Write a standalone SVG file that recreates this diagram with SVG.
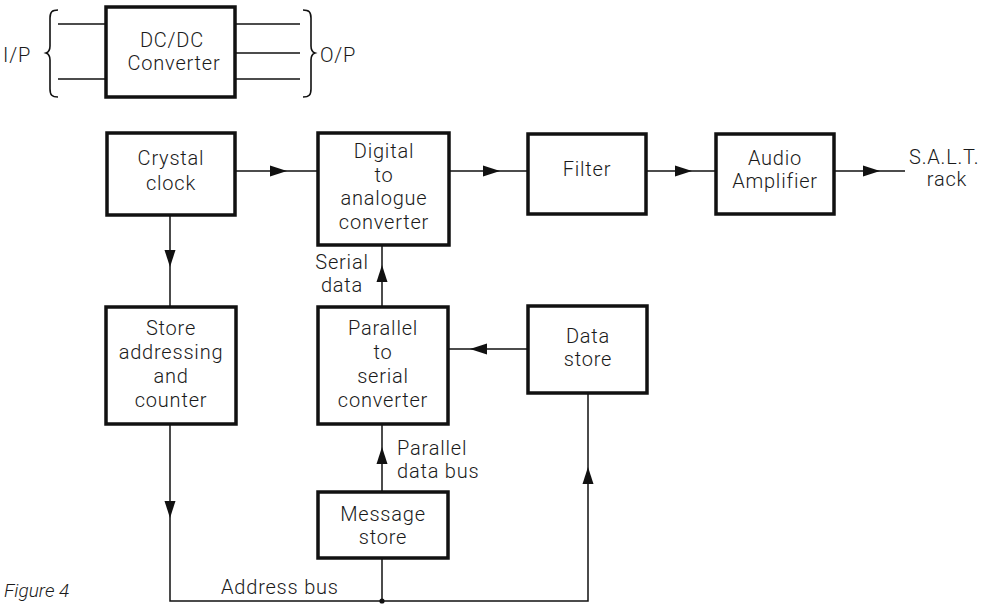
<svg xmlns="http://www.w3.org/2000/svg" xmlns:xlink="http://www.w3.org/1999/xlink" width="986" height="604" viewBox="0 0 986 604">
  <style>
    .box { fill: #fff; stroke: #111; stroke-width: 3.5; }
    .wire { fill: none; stroke: #111; stroke-width: 1.5; }
    .brace { fill: none; stroke: #111; stroke-width: 1.6; }
    .lbl { font-family: Roboto, "Liberation Sans", Arial, sans-serif; font-weight: 300; font-size: 20px; fill: #1a1a1a; letter-spacing: 0.8px; }
    .c { text-anchor: middle; }
    .cap { font-family: Roboto, "Liberation Sans", Arial, sans-serif; font-weight: 300; font-size: 19px; font-style: italic; fill: #1a1a1a; }
  </style>
  <defs>
    <!-- filled arrowhead, tip at origin, pointing along +x -->
    <path id="ah" d="M0,0 L-17,-5.5 L-17,5.5 Z" fill="#111"/>
  </defs>

  <rect width="986" height="604" fill="#fff"/>

  <!-- connectors -->
  <g id="connectors">
    <!-- DC/DC converter terminals -->
    <line class="wire" x1="58" y1="24" x2="106" y2="24"/>
    <line class="wire" x1="58" y1="79" x2="106" y2="79"/>
    <line class="wire" x1="235" y1="24" x2="300" y2="24"/>
    <line class="wire" x1="235" y1="53" x2="300" y2="53"/>
    <line class="wire" x1="235" y1="79" x2="300" y2="79"/>
    <path class="brace" d="M58,10 C52,10 50,12 50,18 L50,46 C50,50 49,52 46,53 C49,54 50,56 50,60 L50,89 C50,95 52,97 58,97"/>
    <path class="brace" d="M303,10 C309,10 311,12 311,18 L311,46 C311,50 312,52 315,53 C312,54 311,56 311,60 L311,89 C311,95 309,97 303,97"/>

    <!-- signal chain -->
    <line class="wire" x1="235" y1="171" x2="318" y2="171"/>
    <use xlink:href="#ah" transform="translate(287,171)"/>
    <line class="wire" x1="449" y1="171" x2="528" y2="171"/>
    <use xlink:href="#ah" transform="translate(500,171)"/>
    <line class="wire" x1="646" y1="171" x2="716" y2="171"/>
    <use xlink:href="#ah" transform="translate(692,171)"/>
    <line class="wire" x1="834" y1="171" x2="905" y2="171"/>
    <use xlink:href="#ah" transform="translate(880,171)"/>

    <!-- clock to store addressing -->
    <line class="wire" x1="170" y1="215" x2="170" y2="307"/>
    <use xlink:href="#ah" transform="translate(170,267) rotate(90)"/>

    <!-- serial data -->
    <line class="wire" x1="382" y1="245" x2="382" y2="307"/>
    <use xlink:href="#ah" transform="translate(382,265) rotate(-90)"/>

    <!-- data store to parallel/serial -->
    <line class="wire" x1="448" y1="349" x2="528" y2="349"/>
    <use xlink:href="#ah" transform="translate(470,349) rotate(180)"/>

    <!-- parallel data bus -->
    <line class="wire" x1="382" y1="424" x2="382" y2="492"/>
    <use xlink:href="#ah" transform="translate(382,447) rotate(-90)"/>

    <!-- address bus -->
    <polyline class="wire" points="170,424 170,601 588,601 588,393"/>
    <use xlink:href="#ah" transform="translate(170,518) rotate(90)"/>
    <use xlink:href="#ah" transform="translate(588,467) rotate(-90)"/>
    <line class="wire" x1="382" y1="558" x2="382" y2="601"/>
    <circle cx="382" cy="601" r="2.6" fill="#111"/>
  </g>

  <!-- nodes -->
  <g id="dcdc">
    <rect class="box" x="106" y="7" width="129" height="90"/>
    <text class="lbl c" x="172" y="47">DC/DC</text>
    <text class="lbl c" x="174" y="70">Converter</text>
  </g>
  <g id="ip-label"><text class="lbl" x="3" y="62">I/P</text></g>
  <g id="op-label"><text class="lbl" x="320" y="62">O/P</text></g>

  <g id="crystal-clock">
    <rect class="box" x="107" y="133" width="128" height="82"/>
    <text class="lbl c" x="171" y="165">Crystal</text>
    <text class="lbl c" x="171" y="190">clock</text>
  </g>

  <g id="dac">
    <rect class="box" x="318" y="133" width="131" height="112"/>
    <text class="lbl c" x="384" y="158">Digital</text>
    <text class="lbl c" x="384" y="182">to</text>
    <text class="lbl c" x="384" y="205">analogue</text>
    <text class="lbl c" x="384" y="229">converter</text>
  </g>

  <g id="filter">
    <rect class="box" x="528" y="134" width="118" height="80"/>
    <text class="lbl c" x="587" y="176">Filter</text>
  </g>

  <g id="audio-amplifier">
    <rect class="box" x="716" y="134" width="118" height="80"/>
    <text class="lbl c" x="775" y="165">Audio</text>
    <text class="lbl c" x="775" y="188">Amplifier</text>
  </g>

  <g id="salt-rack">
    <text class="lbl" x="909" y="164">S.A.L.T.</text>
    <text class="lbl c" x="947" y="186">rack</text>
  </g>

  <g id="serial-data-label">
    <text class="lbl c" x="342" y="269">Serial</text>
    <text class="lbl c" x="342" y="292">data</text>
  </g>

  <g id="store-addressing">
    <rect class="box" x="106" y="307" width="130" height="117"/>
    <text class="lbl c" x="171" y="335">Store</text>
    <text class="lbl c" x="171" y="359">addressing</text>
    <text class="lbl c" x="171" y="383">and</text>
    <text class="lbl c" x="171" y="407">counter</text>
  </g>

  <g id="parallel-to-serial">
    <rect class="box" x="318" y="307" width="130" height="117"/>
    <text class="lbl c" x="383" y="335">Parallel</text>
    <text class="lbl c" x="383" y="359">to</text>
    <text class="lbl c" x="383" y="383">serial</text>
    <text class="lbl c" x="383" y="407">converter</text>
  </g>

  <g id="data-store">
    <rect class="box" x="528" y="306" width="119" height="87"/>
    <text class="lbl c" x="588" y="343">Data</text>
    <text class="lbl c" x="588" y="366">store</text>
  </g>

  <g id="parallel-bus-label">
    <text class="lbl" x="397" y="455">Parallel</text>
    <text class="lbl" x="397" y="478">data bus</text>
  </g>

  <g id="message-store">
    <rect class="box" x="318" y="492" width="130" height="66"/>
    <text class="lbl c" x="383" y="521">Message</text>
    <text class="lbl c" x="383" y="544">store</text>
  </g>

  <g id="address-bus-label"><text class="lbl" x="221" y="594">Address bus</text></g>

  <g id="caption"><text class="cap" x="4" y="597">Figure 4</text></g>
</svg>
